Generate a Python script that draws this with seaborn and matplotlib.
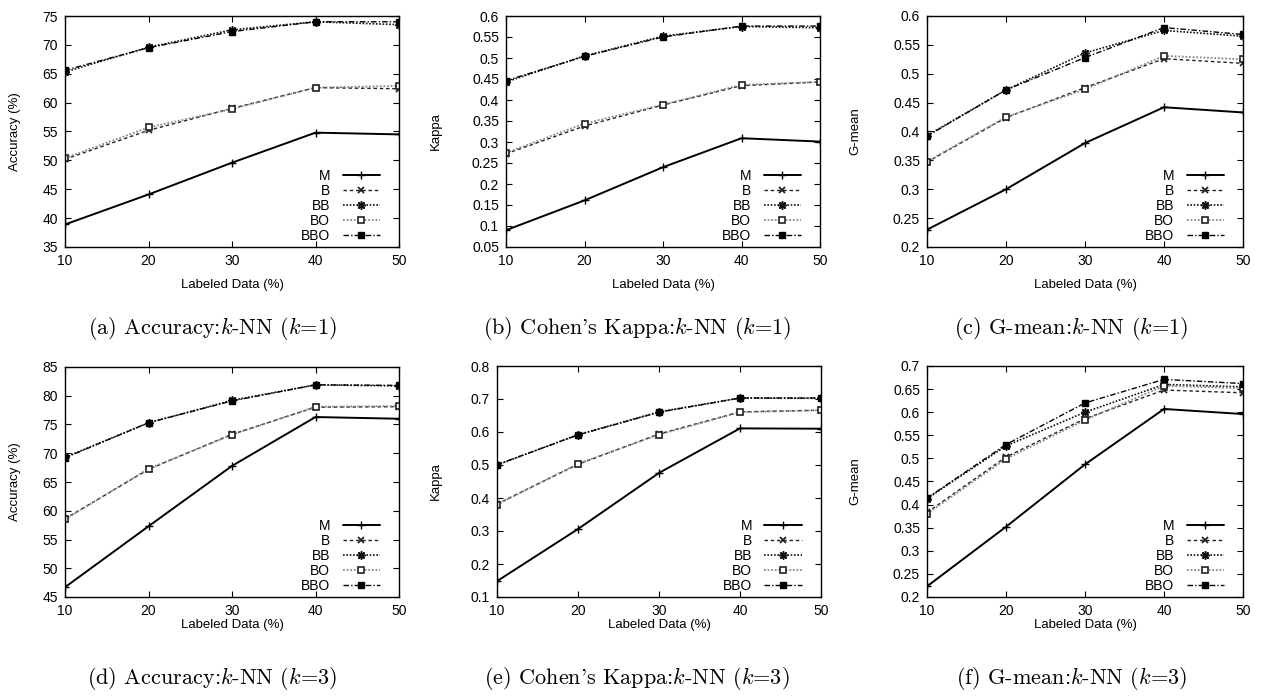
import matplotlib
matplotlib.use("Agg")
import matplotlib.pyplot as plt
import numpy as np
import pandas as pd
import seaborn as sns
from matplotlib.ticker import FuncFormatter, MultipleLocator

# ---------------- data ----------------
labeled = [10, 20, 30, 40, 50]
methods = ["M", "B", "BB", "BO", "BBO"]

acc_k1 = {
    "M":   [38.9, 44.1, 49.6, 54.8, 54.5],
    "B":   [50.2, 55.2, 59.0, 62.6, 62.4],
    "BB":  [65.3, 69.6, 72.6, 74.0, 73.5],
    "BO":  [50.4, 55.7, 58.9, 62.6, 62.9],
    "BBO": [65.6, 69.5, 72.3, 74.0, 74.0],
}
kappa_k1 = {
    "M":   [0.090, 0.161, 0.240, 0.309, 0.301],
    "B":   [0.272, 0.338, 0.388, 0.434, 0.443],
    "BB":  [0.443, 0.505, 0.552, 0.575, 0.572],
    "BO":  [0.274, 0.344, 0.389, 0.436, 0.443],
    "BBO": [0.446, 0.504, 0.550, 0.576, 0.576],
}
gmean_k1 = {
    "M":   [0.230, 0.300, 0.380, 0.442, 0.433],
    "B":   [0.347, 0.424, 0.476, 0.526, 0.518],
    "BB":  [0.393, 0.472, 0.536, 0.575, 0.565],
    "BO":  [0.348, 0.425, 0.473, 0.531, 0.525],
    "BBO": [0.392, 0.472, 0.528, 0.580, 0.568],
}
acc_k3 = {
    "M":   [46.7, 57.3, 67.8, 76.3, 76.0],
    "B":   [58.6, 67.2, 73.3, 78.0, 78.1],
    "BB":  [69.3, 75.3, 79.2, 81.9, 81.7],
    "BO":  [58.5, 67.3, 73.2, 78.1, 78.2],
    "BBO": [69.2, 75.3, 79.1, 81.9, 81.8],
}
kappa_k3 = {
    "M":   [0.148, 0.306, 0.476, 0.611, 0.610],
    "B":   [0.382, 0.502, 0.594, 0.661, 0.666],
    "BB":  [0.500, 0.592, 0.661, 0.703, 0.702],
    "BO":  [0.380, 0.504, 0.592, 0.660, 0.666],
    "BBO": [0.501, 0.591, 0.660, 0.703, 0.703],
}
gmean_k3 = {
    "M":   [0.223, 0.352, 0.487, 0.607, 0.596],
    "B":   [0.383, 0.503, 0.586, 0.648, 0.642],
    "BB":  [0.413, 0.527, 0.600, 0.660, 0.655],
    "BO":  [0.380, 0.499, 0.583, 0.657, 0.652],
    "BBO": [0.414, 0.530, 0.620, 0.671, 0.662],
}

ylabels = ["Accuracy (%)", "Kappa", "G-mean", "Accuracy (%)", "Kappa", "G-mean"]
captions = [
    r"(a) Accuracy:$k$-NN ($k$=1)",
    r"(b) Cohen's Kappa:$k$-NN ($k$=1)",
    r"(c) G-mean:$k$-NN ($k$=1)",
    r"(d) Accuracy:$k$-NN ($k$=3)",
    r"(e) Cohen's Kappa:$k$-NN ($k$=3)",
    r"(f) G-mean:$k$-NN ($k$=3)",
]
xlabel = "Labeled Data (%)"

# ---------------- style ----------------
sns.set_style("ticks")
plt.rcParams["font.family"] = ["Liberation Sans", "DejaVu Sans"]
plt.rcParams["mathtext.fontset"] = "cm"
plt.rcParams["text.color"] = "black"
plt.rcParams["axes.labelcolor"] = "black"

styles = {
    "M":   dict(color="black", linestyle="-", linewidth=1.4, marker="+",
                markersize=6, markeredgewidth=1.0, markeredgecolor="black"),
    "B":   dict(color="#222222", linestyle=(0, (2.5, 2)), linewidth=1.0, marker="x",
                markersize=5, markeredgewidth=1.3, markeredgecolor="#222222"),
    "BB":  dict(color="#111111", linestyle=(0, (1, 1)), linewidth=1.2, marker=(8, 2, 0),
                markersize=6, markeredgewidth=1.1, markeredgecolor="#111111"),
    "BO":  dict(color="#888888", linestyle=(0, (1, 1)), linewidth=1.3, marker="s",
                markersize=5, markerfacecolor="white", markeredgecolor="#222222",
                markeredgewidth=1.2),
    "BBO": dict(color="black", linestyle=(0, (4, 1.5, 1, 1.5)), linewidth=1.0, marker="s",
                markersize=5, markerfacecolor="black", markeredgecolor="black",
                markeredgewidth=1.0),
}

W, H = 1261, 696
fig = plt.figure(figsize=(W / 100, H / 100), dpi=100)

# axes boxes in pixels: left, top, right, bottom
boxes = [
    (65, 16, 399, 247), (506, 16, 820, 247), (927, 16, 1243, 247),
    (65, 367, 399, 597), (497, 366, 821, 597), (927, 366, 1243, 597),
]
ylims = [(35, 75), (0.05, 0.6), (0.2, 0.6), (45, 85), (0.1, 0.8), (0.2, 0.7)]
ysteps = [5, 0.05, 0.05, 5, 0.1, 0.05]
ylabel_x = [15, 436, 855, 15, 436, 855]
xlabel_y = [285, 285, 285, 625, 625, 625]
cap_x = [212, 637, 1071, 212, 637, 1071]
cap_y = [328, 328, 328, 679, 679, 679]

panels = [acc_k1, kappa_k1, gmean_k1, acc_k3, kappa_k3, gmean_k3]

fmt = FuncFormatter(lambda v, p: "%g" % round(v, 4))

for i, pdata in enumerate(panels):
    l, t, r, b = boxes[i]
    ax = fig.add_axes([l / W, 1 - b / H, (r - l) / W, (b - t) / H])
    df = pd.DataFrame({
        "Labeled": np.tile(labeled, len(methods)),
        "Value": np.concatenate([pdata[m] for m in methods]),
        "Method": np.repeat(methods, len(labeled)),
    })
    for m in methods:
        sub = df[df["Method"] == m]
        sns.lineplot(data=sub, x="Labeled", y="Value", ax=ax, label=m,
                     errorbar=None, legend=False, sort=True, **styles[m])
    ax.set_xlim(10, 50)
    ax.set_ylim(*ylims[i])
    ax.xaxis.set_major_locator(MultipleLocator(10))
    ax.yaxis.set_major_locator(MultipleLocator(ysteps[i]))
    ax.yaxis.set_major_formatter(fmt)
    ax.tick_params(direction="in", top=True, right=True, length=4, width=0.8,
                   labelsize=10, pad=5, colors="black")
    for s in ax.spines.values():
        s.set_linewidth(1.0)
        s.set_color("black")
    ax.set_xlabel(xlabel, fontsize=9.5, color="black")
    ax.set_ylabel(ylabels[i], fontsize=9.5, color="black")
    ax.xaxis.set_label_coords(0.5, -(xlabel_y[i] - b) / (b - t))
    ax.yaxis.set_label_coords((ylabel_x[i] - l) / (r - l), 0.5)
    ax.xaxis.label.set_va("center")
    ax.yaxis.label.set_va("center")

    handles, labs = ax.get_legend_handles_labels()
    leg = ax.legend(handles, labs, loc="lower right",
                    bbox_to_anchor=(1 - 19 / (r - l), 4 / (b - t)),
                    frameon=False, fontsize=10, markerfirst=False,
                    handlelength=2.7, handletextpad=0.9, labelspacing=0.08,
                    borderpad=0, borderaxespad=0)
    for tx in leg.get_texts():
        tx.set_color("black")

    fig.text(cap_x[i] / W, 1 - cap_y[i] / H, captions[i], fontsize=16,
             family="cmr10", ha="center", va="center", color="black")

fig.savefig("out.png", dpi=100, facecolor="white")
